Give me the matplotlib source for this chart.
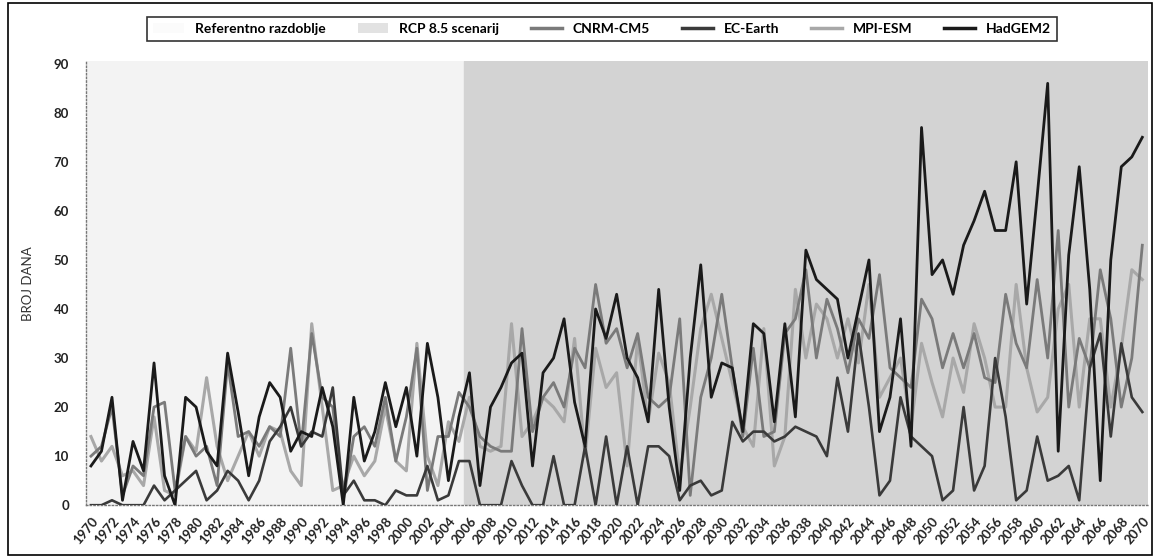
import matplotlib.pyplot as plt
import numpy as np
from matplotlib.patches import Patch, Rectangle
from matplotlib.lines import Line2D

plt.rcParams['font.family'] = ['Lato', 'DejaVu Sans']

years = np.arange(1970, 2071)

hadgem2 = [8, 11, 22, 1, 13, 7, 29, 6, 0, 22,
           20, 11, 8, 31, 19, 6, 18, 25, 22, 11,
           15, 14, 24, 16, 0, 22, 9, 15, 25, 16,
           24, 10, 33, 22, 5, 18, 27, 4, 20, 24,
           29, 31, 8, 27, 30, 38, 21, 12, 40, 34,
           43, 30, 26, 17, 44, 20, 3, 30, 49, 22,
           29, 28, 15, 37, 35, 17, 37, 18, 52, 46,
           44, 42, 30, 40, 50, 15, 22, 38, 12, 77,
           47, 50, 43, 53, 58, 64, 56, 56, 70, 41,
           63, 86, 11, 51, 69, 44, 5, 50, 69, 71,
           75]
cnrm = [10, 12, 20, 2, 8, 6, 20, 21, 3, 14,
        10, 12, 4, 29, 14, 15, 12, 16, 14, 32,
        12, 35, 22, 20, 1, 14, 16, 12, 22, 9,
        18, 32, 3, 14, 14, 23, 20, 14, 12, 11,
        11, 36, 15, 22, 25, 20, 32, 28, 45, 33,
        36, 28, 35, 22, 20, 22, 38, 2, 22, 30,
        43, 28, 14, 32, 14, 15, 35, 38, 48, 30,
        42, 36, 27, 38, 34, 47, 28, 26, 24, 42,
        38, 28, 35, 28, 35, 26, 25, 43, 33, 28,
        46, 30, 56, 20, 34, 28, 48, 38, 20, 30,
        53]
ecearth = [0, 0, 1, 0, 0, 0, 4, 1, 3, 5,
           7, 1, 3, 7, 5, 1, 5, 13, 16, 20,
           12, 15, 14, 24, 2, 5, 1, 1, 0, 3,
           2, 2, 8, 1, 2, 9, 9, 0, 0, 0,
           9, 4, 0, 0, 10, 0, 0, 12, 0, 14,
           0, 12, 0, 12, 12, 10, 1, 4, 5, 2,
           3, 17, 13, 15, 15, 13, 14, 16, 15, 14,
           10, 26, 15, 35, 20, 2, 5, 22, 14, 12,
           10, 1, 3, 20, 3, 8, 30, 18, 1, 3,
           14, 5, 6, 8, 1, 28, 35, 14, 33, 22,
           19]
mpi = [14, 9, 12, 6, 7, 4, 18, 3, 2, 14,
       11, 26, 12, 5, 10, 15, 10, 16, 15, 7,
       4, 37, 20, 3, 4, 10, 6, 9, 20, 9,
       7, 33, 10, 4, 17, 13, 22, 12, 11, 12,
       37, 14, 17, 22, 20, 17, 34, 10, 32, 24,
       27, 8, 34, 17, 31, 25, 6, 20, 36, 43,
       34, 25, 16, 12, 36, 8, 14, 44, 30, 41,
       38, 30, 38, 29, 45, 22, 26, 30, 16, 33,
       25, 18, 30, 23, 37, 30, 20, 20, 45, 28,
       19, 22, 40, 45, 20, 38, 38, 20, 32, 48,
       46]

fig = plt.figure(figsize=(11.58, 5.57), dpi=100)
ax = fig.add_axes([0.074, 0.093, 0.917, 0.797])

# shaded periods
ref_col = '#f3f3f3'
rcp_col = '#d3d3d3'
ax.axvspan(1969.5, 2005.5, color=ref_col, zorder=0)
ax.axvspan(2005.5, 2070.5, color=rcp_col, zorder=0)

ax.plot(years, mpi, color='#a8a8a8', lw=2.2, zorder=2)
ax.plot(years, cnrm, color='#7a7a7a', lw=2.0, zorder=3)
ax.plot(years, ecearth, color='#3a3a3a', lw=1.9, zorder=4)
ax.plot(years, hadgem2, color='#1a1a1a', lw=2.0, zorder=5)

ax.set_xlim(1969.5, 2070.5)
ax.set_ylim(0, 90.5)
ax.set_yticks(np.arange(0, 91, 10))
ax.set_xticks(np.arange(1970, 2071, 2))
ax.set_xticklabels([str(y) for y in range(1970, 2071, 2)], rotation=50,
                   ha='right', va='top', rotation_mode='anchor')
ax.tick_params(axis='y', length=0, labelsize=9.5, colors='#222222', pad=12)
ax.tick_params(axis='x', length=0, labelsize=9.5, colors='#222222', pad=7)
for lab in ax.get_xticklabels() + ax.get_yticklabels():
    lab.set_fontweight('bold')

for side in ['top', 'right']:
    ax.spines[side].set_visible(False)
for side in ['left', 'bottom']:
    ax.spines[side].set_linestyle(':')
    ax.spines[side].set_color('#777777')
    ax.spines[side].set_linewidth(1.0)

ax.set_ylabel('BROJ DANA', fontsize=9.5, color='#333333', labelpad=14)

handles = [Patch(facecolor='#fbfbfb', edgecolor='none'),
           Patch(facecolor='#e2e2e2', edgecolor='none'),
           Line2D([], [], color='#7a7a7a', lw=2.5),
           Line2D([], [], color='#3a3a3a', lw=2.5),
           Line2D([], [], color='#a8a8a8', lw=2.5),
           Line2D([], [], color='#1a1a1a', lw=2.5)]
labels = ['Referentno razdoblje', 'RCP 8.5 scenarij', 'CNRM-CM5',
          'EC-Earth', 'MPI-ESM', 'HadGEM2']
leg = fig.legend(handles, labels, loc='center', bbox_to_anchor=(0.52, 0.948),
                 ncol=6, frameon=True, fancybox=False, edgecolor='black',
                 handlelength=2.2, columnspacing=2.3,
                 borderpad=0.45, prop={'weight': 'bold', 'size': 10})
leg.get_frame().set_linewidth(1.2)

fig.patches.append(Rectangle((0.007, 0.004), 0.988, 0.99, transform=fig.transFigure,
                             fill=False, edgecolor='black', lw=1.2))

fig.savefig('out.png', dpi=100)
